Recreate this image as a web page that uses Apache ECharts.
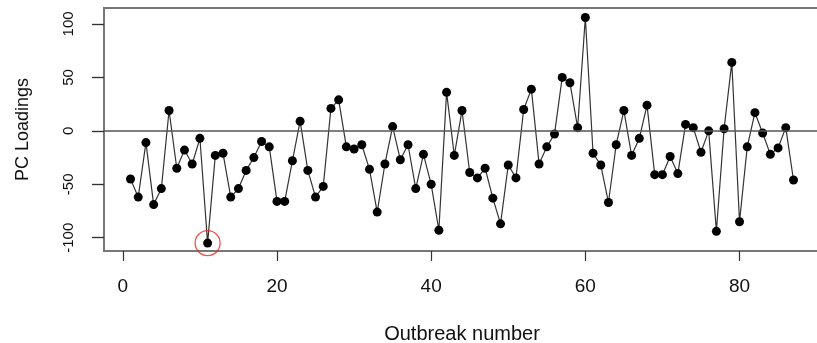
<!DOCTYPE html>
<html>
<head>
<meta charset="utf-8">
<script src="https://cdn.jsdelivr.net/npm/echarts@6/dist/echarts.min.js"></script>
<style>
html,body{margin:0;padding:0;background:#fff;}
#c{width:817px;height:343px;}
</style>
</head>
<body>
<div id="c"></div>
<script>
// Outbreak numbers 1..87 and their PC loadings
var outbreaks = [];
for (var i = 1; i <= 87; i++) outbreaks.push(i);
var loadings = [
  -45, -62, -11, -69, -54, 19, -35, -18, -31, -7,
  -105, -23, -21, -62, -54, -37, -25, -10, -15, -66,
  -66, -28, 9, -37, -62, -52, 21, 29, -15, -17,
  -13, -36, -76, -31, 4, -27, -13, -54, -22, -50,
  -93, 36, -23, 19, -39, -44, -35, -63, -87, -32,
  -44, 20, 39, -31, -15, -3, 50, 45, 3, 106,
  -21, -32, -67, -13, 19, -23, -7, 24, -41, -41,
  -24, -40, 6, 3, -20, 0, -94, 2, 64, -85,
  -15, 17, -2, -22, -16, 3, -46
];
var highlighted = [11]; // circled outbreak
var xTicks = [0, 20, 40, 60, 80];
var yTicks = [-100, -50, 0, 50, 100];

var pts = outbreaks.map(function (x, k) { return [x, loadings[k]]; });
var hl = highlighted.map(function (x) { return [x, loadings[x - 1]]; });

var font = 'Liberation Sans, Arial, sans-serif';
var chart = echarts.init(document.getElementById('c'), null, {renderer: 'canvas'});
chart.setOption({
  animation: false,
  backgroundColor: '#fff',
  grid: {left: 104, top: 8, right: -3, bottom: 92, containLabel: false, outerBoundsMode: 'none',
         show: true, borderColor: '#777', borderWidth: 2, backgroundColor: 'transparent'},
  xAxis: {
    type: 'value', min: -2.44, max: 90.44,
    name: 'Outbreak number', nameLocation: 'middle', nameGap: 73,
    nameTextStyle: {fontFamily: font, fontSize: 20, color: '#111'},
    axisLine: {show: true, onZero: false, lineStyle: {color: '#777', width: 2}},
    axisTick: {show: true, inside: false, length: 10, lineStyle: {color: '#333', width: 1.2}, customValues: xTicks},
    axisLabel: {fontFamily: font, fontSize: 19, color: '#111', margin: 26, customValues: xTicks},
    splitLine: {show: false}
  },
  yAxis: [{
    type: 'value', min: -112.4, max: 114.9, position: 'left',
    name: 'PC Loadings', nameLocation: 'middle', nameGap: 72, nameRotate: 90,
    nameTextStyle: {fontFamily: font, fontSize: 18, color: '#111'},
    axisLine: {show: true, onZero: false, lineStyle: {color: '#777', width: 2}},
    axisTick: {show: true, inside: false, length: 12, lineStyle: {color: '#333', width: 1.2}, customValues: yTicks},
    axisLabel: {show: true, fontFamily: font, fontSize: 15, color: '#111', rotate: 90, margin: 28, customValues: yTicks},
    splitLine: {show: false}
  }, {
    // tick-only twin of the value axis (same scale), drawn on the left edge
    type: 'value', min: -112.4, max: 114.9, position: 'left', offset: 0,
    axisLine: {show: false, onZero: false},
    axisTick: {show: true, inside: false, length: 12, lineStyle: {color: '#333', width: 1.2}, customValues: yTicks},
    axisLabel: {show: false},
    splitLine: {show: false}
  }],
  series: [
    {
      type: 'line', data: pts, symbol: 'circle', symbolSize: 9,
      lineStyle: {color: '#333', width: 1.2},
      itemStyle: {color: '#000'},
      markLine: {
        silent: true, symbol: 'none', label: {show: false},
        lineStyle: {color: '#555', width: 1.5, type: 'solid'},
        data: [{yAxis: 0}]
      },
      z: 3
    },
    {
      type: 'scatter', data: hl, symbol: 'circle', symbolSize: 25,
      itemStyle: {color: 'transparent', borderColor: '#e8281e', borderWidth: 1.3},
      z: 4
    }
  ]
});
</script>
</body>
</html>
